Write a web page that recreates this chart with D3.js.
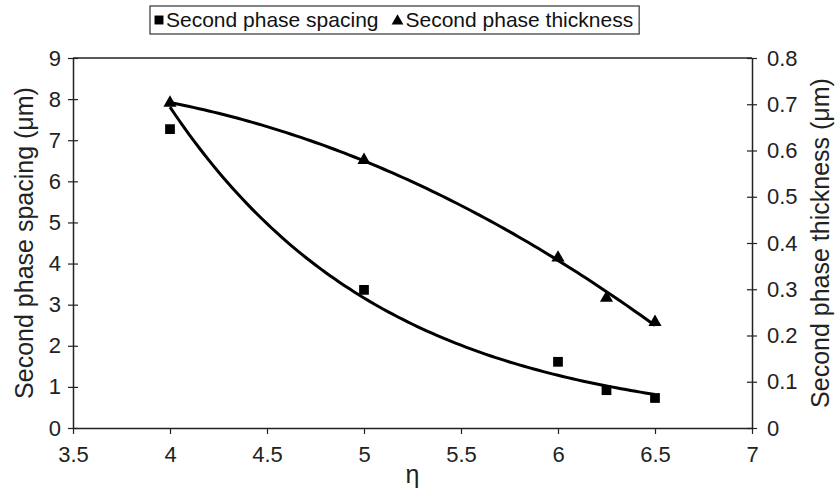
<!DOCTYPE html>
<html>
<head>
<meta charset="utf-8">
<script src="https://cdn.jsdelivr.net/npm/d3@7"></script>
<style>
  body { margin: 0; background: #fff; }
  svg { display: block; font-family: "Liberation Sans", Arial, sans-serif; }
</style>
</head>
<body>
<svg width="835" height="496"></svg>
<script>
// values
const eta = [4, 5, 6, 6.25, 6.5];
const spacing = [7.27, 3.36, 1.61, 0.92, 0.73];        // µm, left axis
const thickness = [0.703, 0.579, 0.368, 0.281, 0.229]; // µm, right axis
const xTicks = [3.5, 4, 4.5, 5, 5.5, 6, 6.5, 7];
const leftTicks = [0, 1, 2, 3, 4, 5, 6, 7, 8, 9];
const rightTicks = [0, 0.1, 0.2, 0.3, 0.4, 0.5, 0.6, 0.7, 0.8];

const [width, height] = [835, 496];
const margin = {top: 58, right: 83, bottom: 68, left: 73};

const svg = d3.select('svg');

const x = d3.scaleLinear().domain([3.5, 7]).range([margin.left, width - margin.right]);
const yL = d3.scaleLinear().domain([0, 9]).range([height - margin.bottom, margin.top]);
const yR = d3.scaleLinear().domain([0, 0.8]).range([height - margin.bottom, margin.top]);

const fmt = d => String(d);
const tickFont = 22;
const titleFont = 25;
const legendFont = 21;

// top border
svg.append('line')
  .attr('x1', x(3.5)).attr('x2', x(7))
  .attr('y1', yL(9)).attr('y2', yL(9))
  .attr('stroke', '#222').attr('stroke-width', 1.5);

// x axis
{
  const g = svg.append('g')
    .attr('transform', `translate(0,${yL(0)})`)
    .call(d3.axisBottom(x).tickValues(xTicks).tickFormat(fmt).tickSize(6).tickPadding(12).tickSizeOuter(0));
  g.select('.domain').attr('stroke', '#222').attr('stroke-width', 1.5);
  g.selectAll('.tick line').attr('stroke', '#222').attr('stroke-width', 1.2);
  g.selectAll('.tick text').attr('font-size', tickFont).attr('fill', '#222').attr('font-family', null);
}
// left axis
{
  const g = svg.append('g')
    .attr('transform', `translate(${x(3.5)},0)`)
    .call(d3.axisLeft(yL).tickValues(leftTicks).tickFormat(fmt).tickSize(5).tickPadding(7).tickSizeOuter(0));
  g.select('.domain').attr('stroke', '#222').attr('stroke-width', 1.5);
  g.selectAll('.tick line').attr('x1', 5).attr('x2', -5).attr('stroke', '#222').attr('stroke-width', 1.2);
  g.selectAll('.tick text').attr('font-size', tickFont).attr('fill', '#222').attr('font-family', null);
}
// right axis
{
  const g = svg.append('g')
    .attr('transform', `translate(${x(7)},0)`)
    .call(d3.axisRight(yR).tickValues(rightTicks).tickFormat(fmt).tickSize(5).tickPadding(10).tickSizeOuter(0));
  g.select('.domain').attr('stroke', '#222').attr('stroke-width', 1.5);
  g.selectAll('.tick line').attr('x1', 5).attr('x2', -5).attr('stroke', '#222').attr('stroke-width', 1.2);
  g.selectAll('.tick text').attr('font-size', tickFont).attr('fill', '#222').attr('font-family', null);
}

// axis titles
svg.append('text')
  .attr('transform', `translate(33,${(yL(0) + yL(9)) / 2}) rotate(-90)`)
  .attr('text-anchor', 'middle').attr('font-size', titleFont).attr('fill', '#222')
  .text('Second phase spacing (\u03bcm)');
svg.append('text')
  .attr('transform', `translate(829,${(yL(0) + yL(9)) / 2}) rotate(-90)`)
  .attr('text-anchor', 'middle').attr('font-size', titleFont).attr('fill', '#222')
  .text('Second phase thickness (\u03bcm)');
svg.append('text')
  .attr('x', (x(3.5) + x(7)) / 2).attr('y', 483)
  .attr('text-anchor', 'middle').attr('font-size', titleFont).attr('fill', '#222')
  .text('\u03b7');

// trendlines fitted from the data (exponential for spacing, 2nd order polynomial for thickness)
function expFit(xs, ys) {
  const ly = ys.map(Math.log);
  const mx = d3.mean(xs), my = d3.mean(ly);
  const b = d3.sum(xs, (v, i) => (v - mx) * (ly[i] - my)) / d3.sum(xs, v => (v - mx) ** 2);
  const a = my - b * mx;
  return v => Math.exp(a + b * v);
}
function polyFit2(xs, ys) {
  const s = k => d3.sum(xs, v => v ** k);
  const t = k => d3.sum(xs, (v, i) => v ** k * ys[i]);
  const A = [[s(0), s(1), s(2)], [s(1), s(2), s(3)], [s(2), s(3), s(4)]];
  const B = [t(0), t(1), t(2)];
  // gaussian elimination
  for (let i = 0; i < 3; i++) {
    for (let j = i + 1; j < 3; j++) {
      const f = A[j][i] / A[i][i];
      for (let k = i; k < 3; k++) A[j][k] -= f * A[i][k];
      B[j] -= f * B[i];
    }
  }
  const c = [0, 0, 0];
  for (let i = 2; i >= 0; i--) {
    let r = B[i];
    for (let k = i + 1; k < 3; k++) r -= A[i][k] * c[k];
    c[i] = r / A[i][i];
  }
  return v => c[0] + c[1] * v + c[2] * v * v;
}

const fS = expFit(eta, spacing);
const fT = polyFit2(eta, thickness);
const xs = d3.range(0, 101).map(i => d3.min(eta) + (d3.max(eta) - d3.min(eta)) * i / 100);

svg.append('path')
  .datum(xs)
  .attr('fill', 'none').attr('stroke', '#000').attr('stroke-width', 3)
  .attr('d', d3.line().x(d => x(d)).y(d => yL(fS(d))));
svg.append('path')
  .datum(xs)
  .attr('fill', 'none').attr('stroke', '#000').attr('stroke-width', 3)
  .attr('d', d3.line().x(d => x(d)).y(d => yR(fT(d))));

// markers
const sq = d3.symbol().type(d3.symbolSquare).size(95);
const tri = d3.symbol().type(d3.symbolTriangle).size(75);

svg.append('g').selectAll('path')
  .data(eta.map((e, i) => [e, spacing[i]]))
  .join('path')
  .attr('transform', d => `translate(${x(d[0])},${yL(d[1])})`)
  .attr('d', sq).attr('fill', '#000');
svg.append('g').selectAll('path')
  .data(eta.map((e, i) => [e, thickness[i]]))
  .join('path')
  .attr('transform', d => `translate(${x(d[0])},${yR(d[1])})`)
  .attr('d', tri).attr('fill', '#000');

// legend
{
  const g = svg.append('g');
  const box = g.append('rect')
    .attr('x', 150).attr('y', 6).attr('height', 28)
    .attr('fill', '#fff').attr('stroke', '#333').attr('stroke-width', 1.2);
  g.append('path').attr('transform', 'translate(159,20)').attr('d', d3.symbol().type(d3.symbolSquare).size(80)).attr('fill', '#000');
  const t1 = g.append('text').attr('x', 166).attr('y', 27).attr('font-size', legendFont).attr('fill', '#111').text('Second phase spacing');
  const end1 = 166 + t1.node().getComputedTextLength();
  g.append('path').attr('transform', `translate(${end1 + 19},21)`).attr('d', d3.symbol().type(d3.symbolTriangle).size(60)).attr('fill', '#000');
  const t2 = g.append('text').attr('x', end1 + 27).attr('y', 27).attr('font-size', legendFont).attr('fill', '#111').text('Second phase thickness');
  const end2 = end1 + 27 + t2.node().getComputedTextLength();
  box.attr('width', end2 + 6 - 150);
}
</script>
</body>
</html>
